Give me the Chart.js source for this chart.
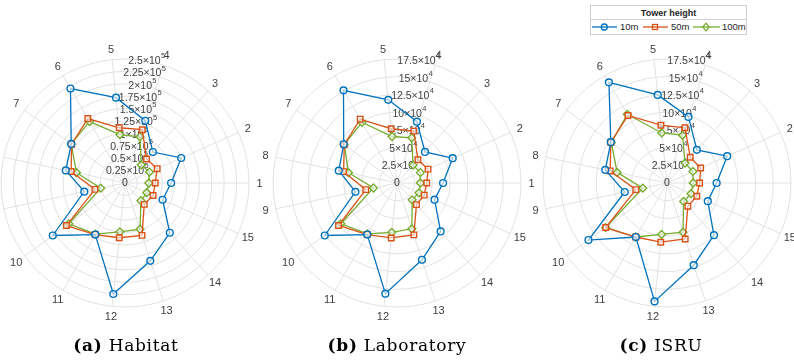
<!DOCTYPE html>
<html>
<head>
<meta charset="utf-8">
<script src="https://cdn.jsdelivr.net/npm/chart.js@4"></script>
<style>
  html, body { margin: 0; padding: 0; background: #fff; }
  #wrap { position: relative; width: 794px; height: 361px; overflow: hidden; }
  canvas.polar { position: absolute; left: 0; top: 0; }
  .cap { position: absolute; top: 335px; font-family: "DejaVu Serif", "Liberation Serif", serif; font-size: 17px; letter-spacing: 0.7px; color: #000; white-space: nowrap; transform: translateX(-50%); }
  .cap b { font-weight: bold; }
  #legend { position: absolute; left: 0; top: 0; }
</style>
</head>
<body>
<div id="wrap">
  <canvas id="cA" class="polar" width="794" height="361"></canvas>
  <canvas id="cB" class="polar" width="794" height="361"></canvas>
  <canvas id="cC" class="polar" width="794" height="361"></canvas>
  <div class="cap" style="left:126px"><b>(a)</b> Habitat</div>
  <div class="cap" style="left:397px"><b>(b)</b> Laboratory</div>
  <div class="cap" style="left:661px"><b>(c)</b> ISRU</div>
  <svg id="legend" width="794" height="40">
    <rect x="590.5" y="5.5" width="156" height="29" fill="#fff" stroke="#cfcfcf" stroke-width="1"/>
    <line x1="590.5" y1="19.5" x2="746.5" y2="19.5" stroke="#cfcfcf" stroke-width="1"/>
    <text x="668.5" y="16" text-anchor="middle" font-family="Liberation Sans, Arial, sans-serif" font-size="9" font-weight="bold" fill="#262626">Tower height</text>
    <line x1="592" y1="27" x2="617" y2="27" stroke="#0072BD" stroke-width="1.3"/>
    <circle cx="604.3" cy="27" r="3" fill="none" stroke="#0072BD" stroke-width="1.3"/>
    <text x="620" y="30.3" font-family="Liberation Sans, Arial, sans-serif" font-size="9.5" fill="#262626">10m</text>
    <line x1="643" y1="27" x2="668" y2="27" stroke="#D95319" stroke-width="1.3"/>
    <rect x="652.5" y="24.5" width="5" height="5" fill="none" stroke="#D95319" stroke-width="1.3"/>
    <text x="671" y="30.3" font-family="Liberation Sans, Arial, sans-serif" font-size="9.5" fill="#262626">50m</text>
    <line x1="693" y1="27" x2="720" y2="27" stroke="#77AC30" stroke-width="1.3"/>
    <polygon points="706,23.2 709.2,27 706,30.8 702.8,27" fill="none" stroke="#77AC30" stroke-width="1.3"/>
    <text x="722" y="30.3" font-family="Liberation Sans, Arial, sans-serif" font-size="9.5" fill="#262626">100m</text>
  </svg>
</div>
<script>
// Azimuth sectors 1..15, counter-clockwise from east
const sectors = ['1','2','3','4','5','6','7','8','9','10','11','12','13','14','15'];
const seriesNames = ['10m', '50m', '100m'];

// Habitat (values)
const habitat10m  = [93000, 124000, 84000, 132000, 173000, 220000, 134000, 122000, 84000, 180000, 120000, 225000, 165000, 135000, 83000];
const habitat50m  = [61000, 71000, 65000, 113000, 112000, 150000, 133000, 111000, 62000, 146000, 120000, 111000, 111000, 58000, 62000];
const habitat100m = [48000, 54000, 49000, 98000, 98000, 143000, 134000, 100000, 50000, 140000, 119000, 99000, 98000, 48000, 48000];

// Laboratory
const lab10m  = [65000, 86000, 59000, 91000, 118000, 151000, 93000, 84000, 60000, 126000, 84000, 157000, 114000, 92000, 58000];
const lab50m  = [42000, 48000, 44000, 77000, 77000, 104000, 92000, 77000, 45000, 102000, 84000, 78000, 77000, 41000, 42000];
const lab100m = [33000, 36000, 34000, 67000, 66000, 99000, 92000, 70000, 34000, 98000, 83000, 70000, 68000, 32000, 34000];

// ISRU
const isru10m  = [70000, 93000, 63000, 98000, 125000, 164000, 98000, 89000, 61000, 137000, 88000, 168000, 122000, 99000, 63000];
const isru50m  = [46000, 52000, 49000, 82000, 82000, 110000, 98000, 82000, 45000, 107000, 88000, 84000, 83000, 44000, 46000];
const isru100m = [37000, 40000, 38000, 71000, 71000, 112000, 97000, 72000, 35000, 107000, 88000, 73000, 73000, 35000, 37000];

// Radial tick labels: mantissa and power of ten
const habitatTickMantissa = ['0', '0.25', '0.5', '0.75', '1', '1.25', '1.5', '1.75', '2', '2.25', '2.5'];
const habitatTickExp = 5;
const labTickMantissa = ['0', '2.5', '5', '7.5', '10', '12.5', '15', '17.5'];
const labTickExp = 4;
const isruTickMantissa = ['0', '2.5', '5', '7.5', '10', '12.5', '15', '17.5'];
const isruTickExp = 4;

const COLORS = ['#0072BD', '#D95319', '#77AC30'];
const STYLES = ['circle', 'rect', 'rectRot'];
const RADII = [3.4, 3.9, 3.9];
const GRID = '#e2e2e2';
const TEXT = '#404040';
const R = 124;
const R_AXIS_DEG = 80;
const SANS = '"Liberation Sans", Arial, sans-serif';

// Chart.js runs clockwise; list sectors as 1, 15, 14, ..., 2 so they read counter-clockwise
const order = [0].concat(Array.from({length: 14}, (_, i) => 14 - i));
const reorder = arr => order.map(i => arr[i]);

function polarLabels(cx, cy, mant, exp) {
  return {
    id: 'polarLabels',
    beforeDatasetsDraw(chart) {
      const s = chart.scales.r;
      const ctx = chart.ctx;
      ctx.save();
      ctx.fillStyle = TEXT;
      // sector labels outside the ring
      ctx.font = '11px ' + SANS;
      ctx.textAlign = 'center';
      ctx.textBaseline = 'middle';
      sectors.forEach((lab, i) => {
        const a = i * 24 * Math.PI / 180;
        const d = R + 10.5;
        ctx.fillText(lab, cx + d * Math.cos(a), cy - d * Math.sin(a) + 0.5);
      });
      // radial tick labels along the r-axis direction
      const ax = R_AXIS_DEG * Math.PI / 180;
      s.ticks.forEach((t, i) => {
        if (i >= mant.length) return;
        const d = s.getDistanceFromCenterForValue(t.value);
        const x = cx + d * Math.cos(ax);
        const y = cy - d * Math.sin(ax);
        if (mant[i] === '0') {
          ctx.font = '10.5px ' + SANS;
          ctx.textAlign = 'center';
          ctx.fillText('0', x, y + 0.5);
          return;
        }
        const base = mant[i] + '\u00d710';
        const sup = String(exp);
        ctx.font = '10.5px ' + SANS;
        const wb = ctx.measureText(base).width;
        ctx.font = '7.5px ' + SANS;
        const ws = ctx.measureText(sup).width;
        const x0 = x - (wb + ws) / 2;
        ctx.textAlign = 'left';
        ctx.font = '10.5px ' + SANS;
        ctx.fillText(base, x0, y + 0.5);
        ctx.font = '7.5px ' + SANS;
        ctx.fillText(sup, x0 + wb + 0.3, y - 4.5);
      });
      ctx.restore();
    }
  };
}

function makePolar(id, cx, cy, rmax, steps, series, mant, exp) {
  const datasets = series.map((vals, k) => ({
    label: seriesNames[k],
    data: reorder(vals),
    borderColor: COLORS[k],
    backgroundColor: 'rgba(0,0,0,0)',
    borderWidth: 1.3,
    fill: false,
    pointStyle: STYLES[k],
    pointRadius: RADII[k],
    pointBorderColor: COLORS[k],
    pointBackgroundColor: 'rgba(255,255,255,0.6)',
    pointBorderWidth: 1.4
  }));
  new Chart(document.getElementById(id), {
    type: 'radar',
    data: { labels: reorder(sectors), datasets },
    options: {
      responsive: false,
      animation: false,
      devicePixelRatio: 1,
      layout: { padding: 0 },
      plugins: { legend: { display: false }, tooltip: { enabled: false } },
      elements: { line: { tension: 0 } },
      scales: {
        r: {
          min: 0,
          max: rmax,
          startAngle: 90,
          ticks: { display: false, stepSize: rmax / steps },
          grid: { circular: true, color: GRID, lineWidth: 1 },
          angleLines: { color: GRID, lineWidth: 1 },
          pointLabels: { display: false },
          afterFit(scale) {
            scale.xCenter = cx;
            scale.yCenter = cy;
            scale.drawingArea = R;
          }
        }
      }
    },
    plugins: [polarLabels(cx, cy, mant, exp)]
  });
}

makePolar('cA', 125, 183, 250000, 10, [habitat10m, habitat50m, habitat100m], habitatTickMantissa, habitatTickExp);
makePolar('cB', 397, 183, 175000, 7, [lab10m, lab50m, lab100m], labTickMantissa, labTickExp);
makePolar('cC', 667, 183, 175000, 7, [isru10m, isru50m, isru100m], isruTickMantissa, isruTickExp);
</script>
</body>
</html>
